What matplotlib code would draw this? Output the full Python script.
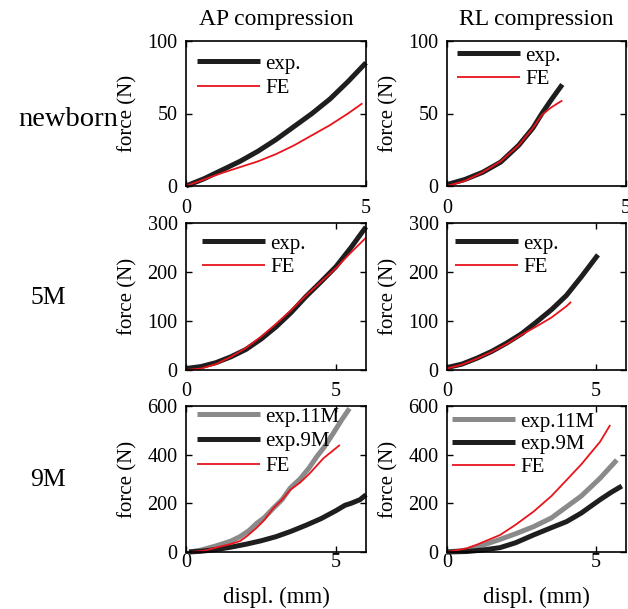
import matplotlib
matplotlib.use("Agg")
import matplotlib.pyplot as plt

plt.rcParams['font.family'] = ['Liberation Serif', 'DejaVu Serif']
plt.rcParams['mathtext.fontset'] = 'stix'

# ---------------- data ----------------
# newborn, AP
nb_ap_exp_x = [0, 0.5, 1, 1.5, 2, 2.5, 3, 3.5, 4, 4.5, 5]
nb_ap_exp_y = [0, 5, 11, 17, 24, 32, 41, 50, 60, 72, 85]
nb_ap_fe_x = [0, 0.5, 1, 1.5, 2, 2.5, 3, 3.5, 4, 4.5, 4.9]
nb_ap_fe_y = [0, 4.5, 9, 13, 17, 22, 28, 35, 42, 50, 57]
# newborn, RL
nb_rl_exp_x = [0, 0.5, 1, 1.5, 2, 2.4, 2.65, 2.9, 3.22]
nb_rl_exp_y = [1, 4.5, 9.5, 16.5, 28, 40, 50, 59, 70]
nb_rl_fe_x = [0, 0.5, 1, 1.5, 2, 2.4, 2.65, 2.9, 3.22]
nb_rl_fe_y = [0, 3.5, 9.5, 17, 28, 40, 49, 54, 59]
# 5M, AP
m5_ap_exp_x = [0, 0.5, 1, 1.5, 2, 2.5, 3, 3.5, 4, 4.5, 5, 5.5, 6]
m5_ap_exp_y = [3, 7, 15, 27, 42, 63, 88, 117, 150, 180, 211, 250, 292]
m5_ap_fe_x = [0, 0.5, 1, 1.5, 2, 2.5, 3, 3.5, 4, 4.5, 5, 5.5, 6]
m5_ap_fe_y = [0, 3, 12, 27, 45, 68, 94, 122, 152, 180, 208, 240, 270]
# 5M, RL
m5_rl_exp_x = [0, 0.5, 1, 1.5, 2, 2.5, 3, 3.5, 4, 4.5, 5.06]
m5_rl_exp_y = [5, 12, 24, 38, 55, 74, 98, 123, 152, 190, 235]
m5_rl_fe_x = [0, 0.5, 1, 1.5, 2, 2.5, 3, 3.5, 4, 4.16]
m5_rl_fe_y = [3, 11, 23, 37, 53, 72, 89, 107, 130, 139]
# 9M, AP
m9_ap_11_x = [0.1, 0.5, 1.0, 1.5, 1.8, 2.1, 2.36, 2.6, 2.91, 3.2, 3.47, 3.8, 4.1, 4.36, 4.6, 4.91, 5.2, 5.45]
m9_ap_11_y = [0, 8, 25, 45, 63, 88, 118, 140, 180, 215, 262, 300, 345, 392, 430, 488, 545, 590]
m9_ap_9_x = [0.1, 0.5, 1, 1.5, 2, 2.5, 3, 3.5, 4, 4.5, 5, 5.3, 5.5, 5.8, 6]
m9_ap_9_y = [0, 3, 10, 20, 32, 46, 63, 85, 110, 137, 170, 192, 200, 215, 235]
m9_ap_fe_x = [0.2, 0.6, 1.0, 1.5, 1.8, 2.0, 2.36, 2.6, 2.91, 3.2, 3.47, 3.8, 4.1, 4.58, 5.13]
m9_ap_fe_y = [0, 5, 18, 33, 45, 62, 100, 130, 180, 215, 255, 285, 320, 385, 440]
# 9M, RL
m9_rl_11_x = [0, 0.66, 1.2, 1.78, 2.3, 2.9, 3.5, 4.01, 4.5, 5.13, 5.69]
m9_rl_11_y = [0, 8, 28, 52, 75, 104, 140, 186, 230, 303, 378]
m9_rl_9_x = [0, 0.66, 1.2, 1.78, 2.3, 2.9, 3.5, 4.01, 4.5, 5.13, 5.5, 5.86]
m9_rl_9_y = [0, 2, 8, 18, 38, 70, 100, 125, 160, 215, 245, 271]
m9_rl_fe_x = [0, 0.66, 1.0, 1.78, 2.3, 2.9, 3.5, 4.01, 4.5, 5.13, 5.47]
m9_rl_fe_y = [0, 15, 30, 70, 112, 166, 230, 296, 360, 453, 522]

col_titles = ["AP compression", "RL compression"]
row_labels = ["newborn", "5M", "9M"]
row_ylims = [100, 300, 600]
row_xlims = [5, 6, 6]
row_yticks = [[0, 50, 100], [0, 100, 200, 300], [0, 200, 400, 600]]
xticks = [0, 5]

BLACK = "#1e1e1e"
GRAY = "#8a8a8a"
RED = "#e8141c"

W, H = 628, 609
fig = plt.figure(figsize=(W / 100, H / 100), dpi=100)

col_px = [(186, 366), (447, 626)]
row_px = [(41, 186), (223, 370), (406, 552)]
row_xpad = [9.5, 8.5, 0.8]

def mk_ax(r, c):
    x0, x1 = col_px[c]
    y0, y1 = row_px[r]
    ax = fig.add_axes([x0 / W, 1 - y1 / H, (x1 - x0) / W, (y1 - y0) / H])
    ax.set_xlim(0, row_xlims[r])
    ax.set_ylim(0, row_ylims[r])
    ax.set_xticks(xticks)
    ax.set_yticks(row_yticks[r])
    ax.tick_params(direction='in', length=4, width=1, top=True, right=True,
                   labelsize=14.5, pad=6)
    ax.tick_params(axis='x', pad=row_xpad[r])
    for s in ax.spines.values():
        s.set_linewidth(1.2)
    return ax

axes = [[mk_ax(r, c) for c in range(2)] for r in range(3)]

lw_exp = 3.6
lw_fe = 1.3

panels = [
    [[(nb_ap_exp_x, nb_ap_exp_y, BLACK, lw_exp, 'exp.'), (nb_ap_fe_x, nb_ap_fe_y, RED, lw_fe, 'FE')],
     [(nb_rl_exp_x, nb_rl_exp_y, BLACK, lw_exp, 'exp.'), (nb_rl_fe_x, nb_rl_fe_y, RED, lw_fe, 'FE')]],
    [[(m5_ap_exp_x, m5_ap_exp_y, BLACK, lw_exp, 'exp.'), (m5_ap_fe_x, m5_ap_fe_y, RED, lw_fe, 'FE')],
     [(m5_rl_exp_x, m5_rl_exp_y, BLACK, lw_exp, 'exp.'), (m5_rl_fe_x, m5_rl_fe_y, RED, lw_fe, 'FE')]],
    [[(m9_ap_11_x, m9_ap_11_y, GRAY, lw_exp, 'exp.11M'), (m9_ap_9_x, m9_ap_9_y, BLACK, lw_exp, 'exp.9M'),
      (m9_ap_fe_x, m9_ap_fe_y, RED, lw_fe, 'FE')],
     [(m9_rl_11_x, m9_rl_11_y, GRAY, lw_exp, 'exp.11M'), (m9_rl_9_x, m9_rl_9_y, BLACK, lw_exp, 'exp.9M'),
      (m9_rl_fe_x, m9_rl_fe_y, RED, lw_fe, 'FE')]],
]

# legend anchors (pixels: left of handle, top of legend)
leg_anchor = [[(197, 54), (457, 46)], [(202, 234), (455, 234)], [(197, 407), (452, 412)]]
leg_spacing = [[0.25, 0.2], [0.2, 0.2], [0.25, 0.15]]

for r in range(3):
    for c in range(2):
        ax = axes[r][c]
        for (x, y, col, lw, lab) in panels[r][c]:
            ax.plot(x, y, color=col, lw=lw, label=lab, solid_capstyle='butt', clip_on=False)
        lx, ly = leg_anchor[r][c]
        x0, x1 = col_px[c]
        y0, y1 = row_px[r]
        ax.legend(loc='upper left', frameon=False, fontsize=15,
                  bbox_to_anchor=((lx - x0) / (x1 - x0), 1 - (ly - y0) / (y1 - y0)),
                  borderpad=0, borderaxespad=0, handlelength=3.0, handletextpad=0.28,
                  labelspacing=leg_spacing[r][c])
        ax.set_ylabel('force (N)', fontsize=15, labelpad=7)

for c in range(2):
    x0, x1 = col_px[c]
    xc = ((x0 + x1) / 2) / W
    fig.text(xc, 1 - 20 / H, col_titles[c], ha='center', va='center', fontsize=17)
    fig.text(xc, 1 - 597 / H, 'displ. (mm)', ha='center', va='center', fontsize=16.5)

row_lab_pos = [(68, 119), (48, 298), (48, 480)]
row_lab_size = [20.5, 18.5, 18.5]
for lab, (px, py), fs in zip(row_labels, row_lab_pos, row_lab_size):
    fig.text(px / W, 1 - py / H, lab, ha='center', va='center', fontsize=fs)

fig.savefig('out.png', dpi=100)
